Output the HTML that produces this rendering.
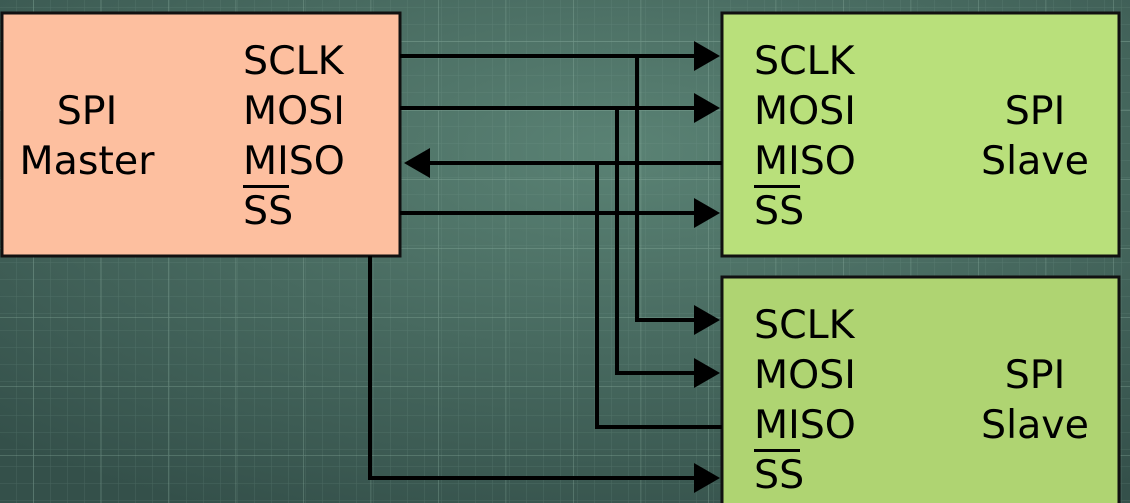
<!DOCTYPE html>
<html><head><meta charset="utf-8"><style>
html,body{margin:0;padding:0;width:1130px;height:503px;overflow:hidden;background:#3f5e56}
svg{display:block}
text{font-family:"DejaVu Sans","Liberation Sans",sans-serif;font-size:39.5px;fill:#000}
</style></head><body>
<svg width="1130" height="503" viewBox="0 0 1130 503">
<defs>
<radialGradient id="bg" cx="0.55" cy="0.3" r="0.8">
<stop offset="0" stop-color="#5a8274"/>
<stop offset="1" stop-color="#34504a"/>
</radialGradient>
<pattern id="minor" x="33" y="41" width="17" height="17" patternUnits="userSpaceOnUse">
<path d="M0 0H17M0 0V17" stroke="#7fa596" stroke-width="1" opacity="0.25" fill="none"/>
</pattern>
<pattern id="major" x="33" y="41" width="67.5" height="69" patternUnits="userSpaceOnUse">
<path d="M0 0H68M0 0V69" stroke="#9cc2b2" stroke-width="1.5" opacity="0.35" fill="none"/>
</pattern>
</defs>
<rect width="1130" height="503" fill="url(#bg)"/>
<rect width="1130" height="503" fill="url(#minor)"/>
<rect width="1130" height="503" fill="url(#major)"/>

<rect x="2" y="13" width="398" height="243" fill="#fdbf9f" stroke="#111" stroke-width="3"/>
<rect x="722" y="13" width="397" height="243" fill="#b9e07b" stroke="#111" stroke-width="3"/>
<rect x="722" y="277" width="397" height="240" fill="#afd472" stroke="#111" stroke-width="3"/>

<g stroke="#000" stroke-width="4" fill="none">
<path d="M400 56H700"/>
<path d="M400 108H700"/>
<path d="M428 163H722"/>
<path d="M400 213H700"/>
<path d="M637 56V320H700"/>
<path d="M617 108V373H700"/>
<path d="M597 163V427H722"/>
<path d="M370 256V478H700"/>
</g>
<g fill="#000">
<polygon points="694,41 720,56 694,71"/>
<polygon points="694,93 720,108 694,123"/>
<polygon points="404,163 430,148 430,178"/>
<polygon points="694,198 720,213 694,228"/>
<polygon points="694,305 720,320 694,335"/>
<polygon points="694,358 720,373 694,388"/>
<polygon points="694,463 720,478 694,493"/>
</g>

<text x="243" y="74">SCLK</text>
<text x="243" y="124">MOSI</text>
<text x="243" y="174">MISO</text>
<text x="243" y="224">SS</text>
<rect x="243" y="185" width="46" height="3"/>
<text x="87" y="124" text-anchor="middle">SPI</text>
<text x="87" y="174" text-anchor="middle">Master</text>

<text x="754" y="74">SCLK</text>
<text x="754" y="124">MOSI</text>
<text x="754" y="174">MISO</text>
<text x="754" y="224">SS</text>
<rect x="754" y="185" width="46" height="3"/>
<text x="1035" y="124" text-anchor="middle">SPI</text>
<text x="1035" y="174" text-anchor="middle">Slave</text>

<text x="754" y="338">SCLK</text>
<text x="754" y="388">MOSI</text>
<text x="754" y="438">MISO</text>
<text x="754" y="488">SS</text>
<rect x="754" y="449" width="46" height="3"/>
<text x="1035" y="388" text-anchor="middle">SPI</text>
<text x="1035" y="438" text-anchor="middle">Slave</text>
</svg>
</body></html>
